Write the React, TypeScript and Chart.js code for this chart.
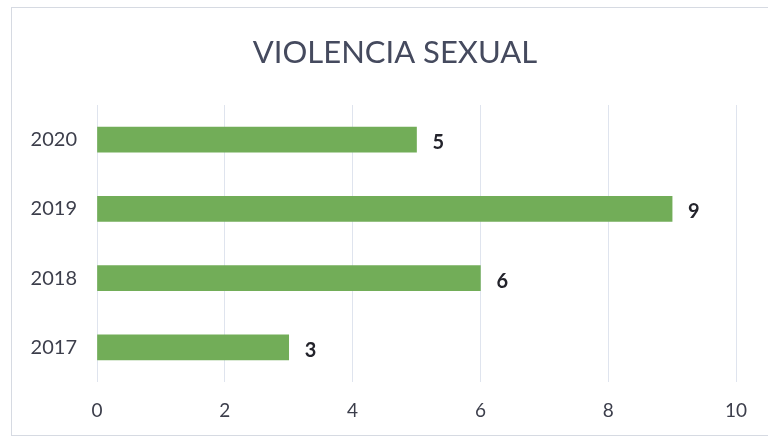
import React, { useEffect, useRef } from "react";
import { Chart, registerables } from "chart.js";

Chart.register(...registerables);

const TITLE = "VIOLENCIA SEXUAL";
const categories = ["2020", "2019", "2018", "2017"];
const values = [5, 9, 6, 3];
const xMin = 0;
const xMax = 10;
const xStep = 2;

const FONT = "Lato, 'Open Sans', sans-serif";
const TEXT = "#3c3e4b";
const BAR = "#72ad58";

const titleAndLabels = {
  id: "titleAndLabels",
  afterDatasetsDraw(chart: any) {
    const ctx = chart.ctx;
    const meta = chart.getDatasetMeta(0);
    ctx.save();
    ctx.font = `bold 20px ${FONT}`;
    ctx.fillStyle = "#23232b";
    ctx.textAlign = "left";
    ctx.textBaseline = "middle";
    meta.data.forEach((el: any, i: number) => {
      ctx.fillText(String(values[i]), el.x + 16, el.y + 3);
    });
    ctx.font = `31px ${FONT}`;
    ctx.fillStyle = "#454a5e";
    ctx.textAlign = "center";
    ctx.fillText(TITLE, 395, 53);
    ctx.restore();
  },
};

export default function App() {
  const ref = useRef<HTMLCanvasElement | null>(null);
  useEffect(() => {
    if (!ref.current) return;
    const chart = new Chart(ref.current, {
      type: "bar",
      data: {
        labels: categories,
        datasets: [
          {
            data: values,
            backgroundColor: BAR,
            borderWidth: 0,
            barThickness: 25,
          },
        ],
      },
      options: {
        indexAxis: "y",
        animation: false,
        responsive: false,
        maintainAspectRatio: false,
        layout: { padding: { left: 0, right: 32, top: 105, bottom: 0 } },
        plugins: {
          legend: { display: false },
          tooltip: { enabled: false },
          title: { display: false },
        },
        scales: {
          x: {
            min: xMin,
            max: xMax,
            ticks: {
              stepSize: xStep,
              color: TEXT,
              font: { family: FONT, size: 19 },
              padding: 17,
            },
            grid: { color: "#dfe4ee", lineWidth: 1, drawTicks: false },
            border: { display: false },
            afterFit: (s: any) => {
              s.height = 59;
            },
          },
          y: {
            ticks: {
              color: TEXT,
              font: { family: FONT, size: 20 },
              padding: 20,
            },
            grid: { display: false, drawTicks: false },
            border: { display: false },
            afterFit: (s: any) => {
              s.width = 97;
            },
          },
        },
      },
      plugins: [titleAndLabels],
    });
    return () => chart.destroy();
  }, []);
  return (
    <div style={{ position: "fixed", left: 0, top: 0, width: 768, height: 441, background: "#fff", overflow: "hidden" }}>
      <div
        style={{
          position: "absolute",
          left: 11,
          top: 7,
          width: 800,
          height: 429,
          border: "1px solid #d6dae2",
          boxSizing: "border-box",
        }}
      />
      <canvas ref={ref} width={768} height={441} style={{ position: "absolute", left: 0, top: 0 }} />
    </div>
  );
}
